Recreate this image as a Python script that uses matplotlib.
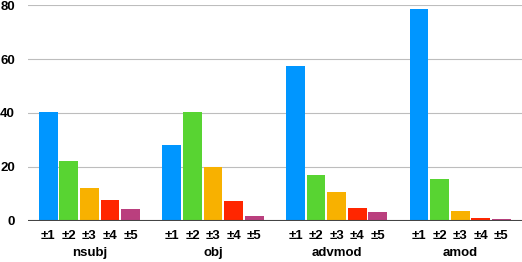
import matplotlib
matplotlib.use("Agg")
import matplotlib.pyplot as plt
import numpy as np

categories = ["nsubj", "obj", "advmod", "amod"]
series_labels = ["±1", "±2", "±3", "±4", "±5"]
values = {
    "±1": [40.3, 28.0, 57.5, 78.7],
    "±2": [22.1, 40.3, 16.9, 15.4],
    "±3": [12.0, 20.0, 10.5, 3.5],
    "±4": [7.6, 7.2, 4.6, 0.9],
    "±5": [4.2, 1.6, 3.1, 0.5],
}
colors = ["#0096FF", "#58D432", "#F8B100", "#FF2600", "#BA3F7E"]
yticks = [0, 20, 40, 60, 80]

plt.rcParams['font.family'] = ['Liberation Sans', 'DejaVu Sans']

fig = plt.figure(figsize=(5.22, 2.62), dpi=100)
ax = fig.add_axes([28.3 / 522, 41.5 / 262, 1 - 28.3 / 522, 215.2 / 262])

slot = 1 / 6
width = 0.152
x = np.arange(len(categories))
tick_pos, tick_lab = [], []
for k, s in enumerate(series_labels):
    pos = x + (k - 2) * slot
    ax.bar(pos, values[s], width=width, color=colors[k], zorder=2)
    tick_pos.extend(pos)
    tick_lab.extend([s] * len(categories))

ax.set_xlim(-0.495, 3.5)
ax.set_ylim(0, 80)
ax.set_yticks(yticks)
ax.set_yticklabels([str(v) for v in yticks], fontweight='bold', fontsize=9.5)
ax.tick_params(axis='y', length=0, pad=9.5)
ax.set_xticks(tick_pos)
ax.set_xticklabels(tick_lab, fontweight='bold', fontsize=9.5)
ax.tick_params(axis='x', length=0, pad=6.5)

for yv in yticks[1:]:
    ax.axhline(yv, color='#bdbdbd', lw=0.8, zorder=1)
ax.axhline(0, color='#444444', lw=1.5, zorder=3)

for i, c in enumerate(categories):
    ax.annotate(c, xy=(x[i], 0), xycoords=('data', 'axes fraction'),
                xytext=(0, -23.3), textcoords='offset points',
                ha='center', va='center', fontweight='bold', fontsize=9.5)

for sp in ax.spines.values():
    sp.set_visible(False)
ax.set_facecolor('white')
fig.savefig("out.png", dpi=100)
